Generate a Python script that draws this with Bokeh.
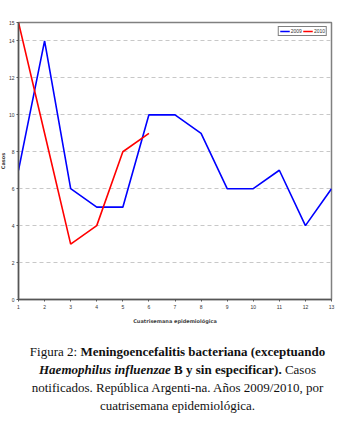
from bokeh.plotting import figure
from bokeh.models import FixedTicker, Legend, LegendItem, Div, Range1d
from bokeh.layouts import column
from bokeh.embed import file_html
from bokeh.resources import INLINE

periods = list(range(1, 14))
cases_2009 = [7, 14, 6, 5, 5, 10, 10, 9, 6, 6, 7, 4, 6]
periods_2010 = [1, 2, 3, 4, 5, 6]
cases_2010 = [15, 9, 3, 4, 8, 9]
y_ticks = [0, 2, 4, 6, 8, 10, 12, 14, 15]
series_names = ["2009", "2010"]

p = figure(width=349, height=326, output_backend="svg", toolbar_location=None,
           x_range=Range1d(1, 13), y_range=Range1d(0, 15),
           min_border_left=0, min_border_right=14, min_border_top=22, min_border_bottom=4,
           margin=(0, 0, 0, -4))
p.outline_line_color = "#808080"
p.outline_line_width = 1.5

r1 = p.line(periods, cases_2009, line_color="#0000ff", line_width=1.6)
r2 = p.line(periods_2010, cases_2010, line_color="#ff0000", line_width=1.6)

p.xaxis.ticker = FixedTicker(ticks=periods)
p.yaxis.ticker = FixedTicker(ticks=y_ticks)
for ax in (p.xaxis[0], p.yaxis[0]):
    ax.major_label_text_font_size = "5px"
    ax.major_label_text_color = "#333333"
    ax.axis_line_color = "#555555"
    ax.axis_line_width = 1.5
    ax.major_tick_line_color = "#555555"
    ax.major_tick_out = 2
    ax.major_tick_in = 0
    ax.minor_tick_line_color = None
    ax.major_label_standoff = 3
    ax.axis_label_text_font_size = "5px"
    ax.axis_label_text_font_style = "bold"
    ax.axis_label_text_font = "DejaVu Sans"
    ax.axis_label_standoff = 6
p.xaxis.axis_label = "Cuatrisemana epidemiológica"
p.yaxis.axis_label = "Casos"
p.yaxis.axis_label_standoff = 0
p.yaxis.major_label_standoff = 2

p.xgrid.grid_line_color = None
p.ygrid.grid_line_color = "#c8c8c8"
p.ygrid.grid_line_dash = "4 3"

legend = Legend(items=[LegendItem(label=series_names[0], renderers=[r1]),
                       LegendItem(label=series_names[1], renderers=[r2])],
                location="top_right", orientation="horizontal")
legend.label_text_font_size = "5px"
legend.label_text_color = "#333333"
legend.glyph_width = 10
legend.glyph_height = 6
legend.label_height = 6
legend.label_width = 10
legend.label_standoff = 1
legend.spacing = 1
legend.padding = 1
legend.margin = 4
legend.border_line_color = "black"
legend.border_line_width = 1
p.add_layout(legend)

caption = Div(text=(
    "<div style=\"font-family:'Liberation Serif','Times New Roman',serif;"
    "font-size:13px;line-height:18px;text-align:center;color:#111111;width:345px\">"
    "Figura 2: <b>Meningoencefalitis bacteriana (exceptuando</b><br>"
    "<b><i>Haemophilus influenzae</i> B y sin especificar).</b> Casos<br>"
    "notificados. República Argenti-na. Años 2009/2010, por<br>"
    "cuatrisemana epidemiológica.</div>"),
    width=345,
    styles={"margin-top": "17px"})

layout = column(p, caption, spacing=0)
open("out.html", "w").write(file_html(layout, INLINE))
